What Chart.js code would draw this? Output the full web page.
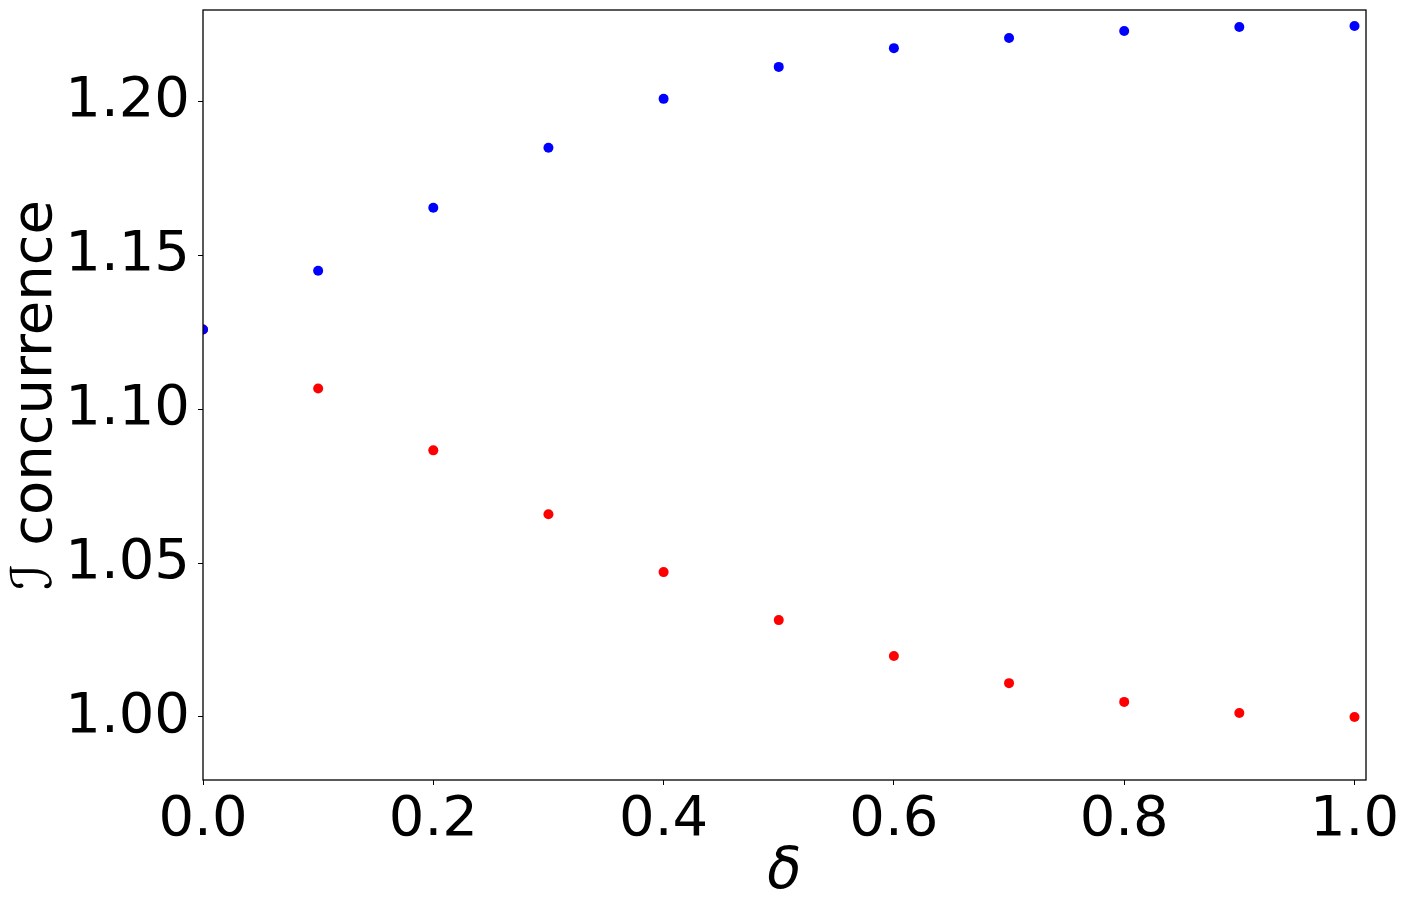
<!DOCTYPE html>
<html>
<head>
<meta charset="utf-8">
<script src="https://cdn.jsdelivr.net/npm/chart.js@4"></script>
<style>
html,body{margin:0;padding:0;background:#fff;}
#wrap{width:1408px;height:913px;}
</style>
</head>
<body>
<div id="wrap"><canvas id="c" width="1408" height="913"></canvas></div>
<script>
const deltaValues = [0.0, 0.1, 0.2, 0.3, 0.4, 0.5, 0.6, 0.7, 0.8, 0.9, 1.0];
const blueValues = [1.1260, 1.1451, 1.1656, 1.1851, 1.2010, 1.2114, 1.2175, 1.2208, 1.2231, 1.2244, 1.2247];
const redValues  = [1.1260, 1.1068, 1.0867, 1.0659, 1.0471, 1.0315, 1.0198, 1.0110, 1.0049, 1.0013, 1.0000];
const xTicks = [0.0, 0.2, 0.4, 0.6, 0.8, 1.0];
const yTicks = [1.00, 1.05, 1.10, 1.15, 1.20];
const xLabel = 'δ';
const yLabel = 'ℐ concurrence';

const toPts = (xs, ys) => xs.map((x, i) => ({x: x, y: ys[i]}));

const frame = {
  id: 'frame',
  afterDatasetsDraw(chart) {
    const a = chart.chartArea, ctx = chart.ctx;
    ctx.save();
    ctx.strokeStyle = '#000';
    ctx.lineWidth = 1.3;
    ctx.strokeRect(a.left, a.top, a.right - a.left, a.bottom - a.top);
    ctx.restore();
  }
};

const FONT = "'DejaVu Sans', sans-serif";

new Chart(document.getElementById('c'), {
  type: 'scatter',
  data: {
    datasets: [
      {label: 'blue', data: toPts(deltaValues, blueValues), backgroundColor: '#0000ff', borderWidth: 0, pointRadius: 5, pointHoverRadius: 5, clip: 0},
      {label: 'red', data: toPts(deltaValues, redValues), backgroundColor: '#ff0000', borderWidth: 0, pointRadius: 5, pointHoverRadius: 5, clip: 0}
    ]
  },
  options: {
    responsive: false,
    animation: false,
    devicePixelRatio: 1,
    layout: {padding: {top: 10, right: 42, left: 0, bottom: 0}},
    plugins: {legend: {display: false}, tooltip: {enabled: false}},
    scales: {
      x: {
        type: 'linear', min: 0, max: 1.01,
        afterFit: s => { s.height = 133; s.paddingLeft = 0; s.paddingRight = 0; },
        afterBuildTicks: s => { s.ticks = xTicks.map(v => ({value: v})); },
        ticks: {font: {family: FONT, size: 56}, color: '#000', padding: 2, maxRotation: 0,
                callback: v => Number(v).toFixed(1)},
        grid: {drawOnChartArea: false, drawTicks: true, tickLength: 5, color: '#000', lineWidth: 1},
        border: {display: false},
        title: {display: true, text: xLabel, font: {family: FONT, size: 56, style: 'italic'}, color: '#000', padding: {top: 0, bottom: 6}}
      },
      y: {
        type: 'linear', min: 0.9795, max: 1.2299,
        afterFit: s => { s.width = 203; s.paddingTop = 0; s.paddingBottom = 0; },
        afterBuildTicks: s => { s.ticks = yTicks.map(v => ({value: v})); },
        ticks: {font: {family: FONT, size: 56}, color: '#000', padding: 8,
                callback: v => Number(v).toFixed(2)},
        grid: {drawOnChartArea: false, drawTicks: true, tickLength: 5, color: '#000', lineWidth: 1},
        border: {display: false},
        title: {display: true, text: yLabel, font: {family: FONT, size: 56}, color: '#000', padding: {top: 3, bottom: 0}}
      }
    }
  },
  plugins: [frame]
});
</script>
</body>
</html>
